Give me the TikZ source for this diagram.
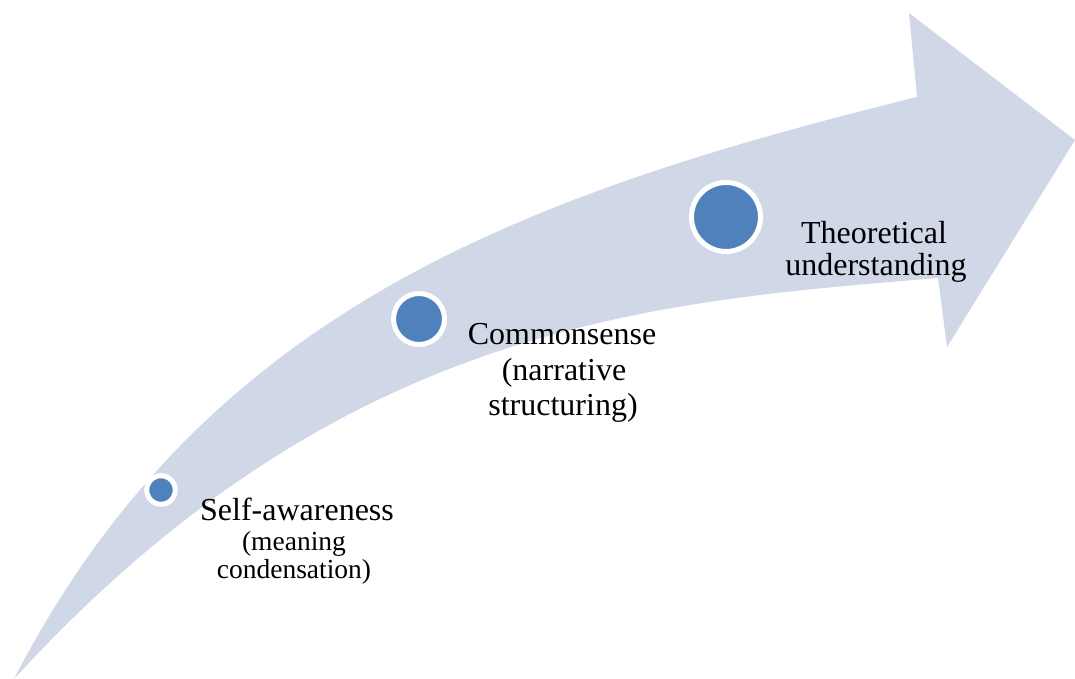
\documentclass[tikz,border=0pt]{standalone}
\usepackage{fontspec}
\setmainfont{Liberation Serif}
\usepackage{xcolor}
\definecolor{bandblue}{HTML}{D0D8E8}
\definecolor{dotblue}{HTML}{4F81BD}

\begin{document}
\begin{tikzpicture}[x=1pt,y=-1pt,
    dot/.style={circle,fill=dotblue,draw=white,line width=5pt,inner sep=0pt},
    bigtext/.style={font=\fontsize{32}{36}\selectfont,anchor=base,inner sep=0pt},
    smalltext/.style={font=\fontsize{27.5}{30}\selectfont,anchor=base,inner sep=0pt}]
    \useasboundingbox (0,0) rectangle (1075,679);

    % 箭头的各个顶点
    \coordinate (T) at (14,679);    % 尾部尖端
    \coordinate (P) at (917,97);
    \coordinate (Q) at (909,13);
    \coordinate (R) at (1075,140);  % 箭头尖
    \coordinate (S) at (947,347);
    \coordinate (U) at (938,278);

    % 弯曲的箭头
    \fill[bandblue] (T) .. controls (203,313) and (516,196) .. (P)
        -- (Q) -- (R) -- (S) -- (U)
        .. controls (651,302) and (341,322) .. (T) -- cycle;

    % 三个圆点，逐渐变大
    \node[dot,minimum size=28.5pt] (d1) at (161,490) {};
    \node[dot,minimum size=51pt] (d2) at (419,319) {};
    \node[dot,minimum size=69pt] (d3) at (726,217) {};

    % 文字
    \node[bigtext] (s1) at (297,520) {Self-awareness};
    \node[smalltext] (s2) at (294,550) {(meaning};
    \node[smalltext] (s3) at (294,578) {condensation)};

    \node[bigtext] (c1) at (562,344) {Commonsense};
    \node[bigtext] (c2) at (564,380) {(narrative};
    \node[bigtext] (c3) at (563,415) {structuring)};

    \node[bigtext] (t1) at (874,243) {Theoretical};
    \node[bigtext] (t2) at (876,275) {understanding};

\end{tikzpicture}
\end{document}
